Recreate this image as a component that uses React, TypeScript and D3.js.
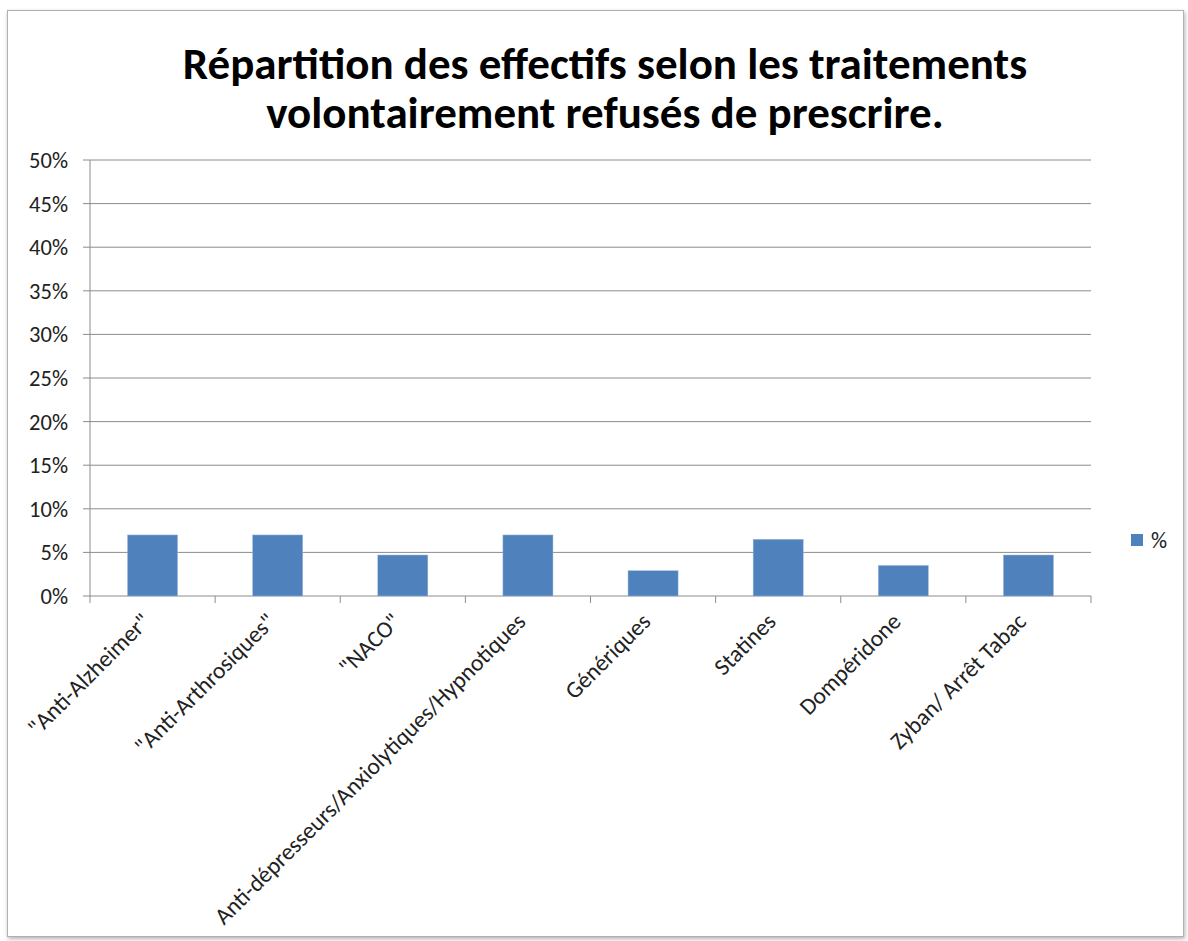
import React from "react";
import * as d3 from "d3";

const categories = [
  '"Anti-Alzheimer"',
  '"Anti-Arthrosiques"',
  '"NACO"',
  "Anti-dépresseurs/Anxiolytiques/Hypnotiques",
  "Génériques",
  "Statines",
  "Dompéridone",
  "Zyban/ Arrêt Tabac",
];
const values = [7.0, 7.0, 4.7, 7.0, 2.9, 6.5, 3.5, 4.7];
const yTicks = [0, 5, 10, 15, 20, 25, 30, 35, 40, 45, 50];
const titleLines = [
  "Répartition des effectifs selon les traitements",
  "volontairement refusés de prescrire.",
];
const seriesName = "%";

const W = 1188;
const H = 941;
const left = 90;
const right = 1091;
const top = 160;
const bottom = 596;
const FONT = "Carlito, Calibri, 'Open Sans', 'Liberation Sans', sans-serif";

export default function App() {
  const x = d3
    .scaleBand<string>()
    .domain(categories)
    .range([left, right])
    .paddingInner(0.6)
    .paddingOuter(0.3);
  const step = (right - left) / categories.length;
  const y = d3.scaleLinear().domain([0, 50]).range([bottom, top]);

  return (
    <svg
      width={W}
      height={H}
      style={{ position: "absolute", left: 0, top: 0, display: "block" }}
      fontFamily={FONT}
    >
      <defs>
        <filter id="sh" x="-5%" y="-5%" width="110%" height="110%">
          <feDropShadow dx="1" dy="2" stdDeviation="2" floodColor="#000" floodOpacity="0.3" />
        </filter>
      </defs>
      <rect x={0} y={0} width={W} height={H} fill="#fff" />
      <rect
        x={7.5}
        y={10.5}
        width={1176}
        height={926}
        fill="#fff"
        stroke="#b0b0b0"
        strokeWidth={1}
        filter="url(#sh)"
      />
      {titleLines.map((t, i) => (
        <text
          key={i}
          x={605}
          y={79 + i * 49}
          textAnchor="middle"
          fontSize={45}
          fontWeight="bold"
          fill="#000"
        >
          {t}
        </text>
      ))}
      {yTicks.map((t) => (
        <g key={t}>
          <line x1={83} x2={right} y1={y(t)} y2={y(t)} stroke="#8c8c8c" strokeWidth={1} />
          <text x={68} y={y(t) + 8} textAnchor="end" fontSize={22.5} fill="#222">
            {t}%
          </text>
        </g>
      ))}
      <line x1={left} x2={left} y1={top} y2={bottom} stroke="#8c8c8c" />
      {d3.range(categories.length + 1).map((i) => (
        <line
          key={i}
          x1={left + i * step}
          x2={left + i * step}
          y1={bottom}
          y2={bottom + 7}
          stroke="#8c8c8c"
        />
      ))}
      {categories.map((c, i) => (
        <rect
          key={c}
          x={x(c)}
          y={y(values[i])}
          width={x.bandwidth()}
          height={bottom - y(values[i])}
          fill="#4F81BD"
          stroke="#9db8da"
          strokeWidth={0.5}
        />
      ))}
      {categories.map((c) => {
        const cx = (x(c) as number) + x.bandwidth() / 2;
        return (
          <text
            key={c}
            transform={`translate(${cx - 1},${bottom + 27}) rotate(-45)`}
            textAnchor="end"
            fontSize={23.5}
            fill="#222"
          >
            {c}
          </text>
        );
      })}
      <rect x={1131} y={534} width={12} height={12} fill="#4F81BD" />
      <text x={1151} y={548} fontSize={22.5} fill="#222">
        {seriesName}
      </text>
    </svg>
  );
}
